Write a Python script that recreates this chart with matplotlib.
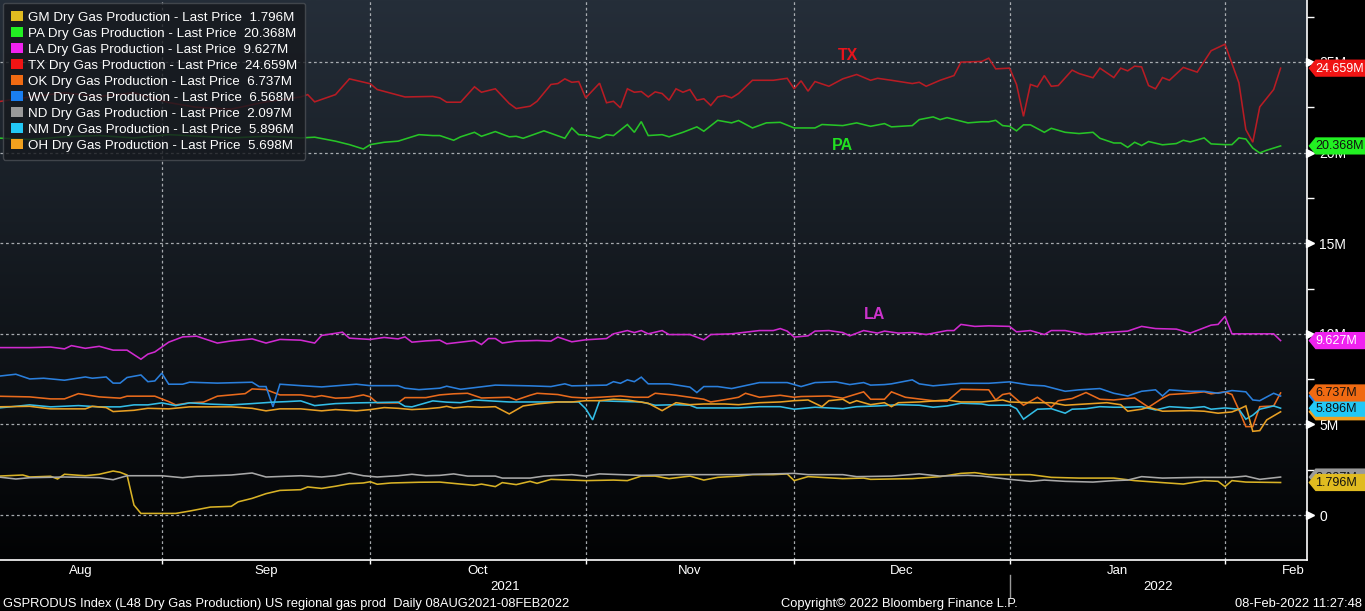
import matplotlib
matplotlib.use("Agg")
import matplotlib.pyplot as plt
import matplotlib.transforms as mtransforms
from matplotlib.patches import Polygon, Patch
from matplotlib.lines import Line2D
import numpy as np
from datetime import date

plt.rcParams['font.family'] = ['Liberation Sans', 'DejaVu Sans']

# ---------------- data (day offset from 08-Aug-2021, values in millions) -------------
START = date(2021, 8, 8)

tx_days = [0, 5, 10, 15, 20, 25, 29, 34, 39, 44, 45, 46, 49, 51, 54, 55, 59, 63, 64, 65, 67, 69, 70, 72, 74, 75, 77, 78,
           80, 81, 82, 83, 84, 85, 87, 88, 89, 90, 91, 92, 93, 94, 95, 96, 97, 98, 99, 100, 101, 102, 103, 104, 105, 106,
           107, 109, 112, 114, 115, 116, 117, 118, 120, 122, 124, 126, 127, 129, 132, 133, 134, 136, 138, 139, 142, 143,
           144, 146, 147, 148, 149, 150, 151, 152, 153, 155, 156, 158, 159, 161, 162, 163, 164, 165, 166, 167, 168, 169,
           171, 173, 175, 177, 179, 180, 181, 182, 184, 185]
tx_vals = [22.78, 23.07, 23.3, 23.1, 23.3, 22.76, 22.5, 22.4, 22.8, 23.07, 23.2, 22.8, 23.2, 24.07, 23.8, 23.48, 23.07,
           23.1, 23.02, 22.78, 22.78, 23.63, 23.33, 23.52, 22.71, 22.43, 22.56, 22.83, 23.76, 23.81, 24.07, 23.88, 23.92,
           23.02, 23.83, 22.75, 22.83, 22.47, 23.52, 23.33, 23.37, 23.07, 23.35, 23.26, 22.89, 23.52, 23.33, 23.48, 22.89,
           22.97, 22.6, 23.07, 23.15, 23.02, 23.26, 23.99, 23.99, 24.1, 23.52, 23.96, 23.39, 23.92, 23.66, 24.07, 24.31,
           23.99, 24.1, 23.99, 23.81, 23.88, 23.66, 23.99, 24.25, 24.99, 25.03, 25.21, 24.62, 24.66, 23.76, 22.0, 23.76,
           23.63, 24.25, 23.66, 23.7, 24.55, 24.36, 24.13, 24.66, 24.14, 24.66, 24.51, 24.77, 24.73, 23.7, 23.52, 24.14,
           23.99, 24.7, 24.44, 25.62, 25.98, 23.85, 21.27, 20.57, 22.52, 23.48, 24.659]

pa_days = [0, 5, 10, 15, 20, 25, 34, 39, 44, 46, 49, 51, 53, 54, 56, 58, 61, 63, 64, 65, 66, 67, 69, 70, 72, 74, 75, 76,
           79, 82, 83, 84, 85, 87, 88, 89, 91, 92, 93, 94, 96, 97, 99, 101, 102, 104, 106, 107, 109, 111, 113, 115, 118,
           119, 122, 124, 126, 128, 129, 132, 133, 135, 136, 137, 140, 142, 143, 144, 145, 146, 147, 148, 149, 151, 152,
           154, 156, 158, 159, 161, 162, 163, 164, 165, 166, 168, 170, 171, 172, 174, 175, 177, 178, 179, 180, 181, 182,
           183, 185]
pa_vals = [20.81, 20.72, 20.87, 20.94, 20.81, 20.99, 20.81, 20.9, 20.81, 20.85, 20.63, 20.44, 20.2, 20.44, 20.57, 20.63,
           20.99, 20.94, 20.94, 20.81, 20.68, 20.87, 21.12, 20.9, 21.16, 20.87, 20.9, 20.79, 21.2, 20.79, 21.36, 20.99,
           20.96, 20.79, 20.99, 20.94, 21.55, 21.12, 21.71, 20.94, 20.99, 20.87, 21.12, 21.42, 21.18, 21.78, 21.64, 21.77,
           21.36, 21.64, 21.67, 21.36, 21.36, 21.55, 21.49, 21.64, 21.45, 21.6, 21.42, 21.49, 21.82, 21.97, 21.82, 21.93,
           21.64, 21.7, 21.7, 21.78, 21.49, 21.45, 21.2, 21.53, 21.53, 21.12, 21.34, 21.12, 21.05, 21.12, 20.79, 20.53,
           20.53, 20.29, 20.57, 20.39, 20.61, 20.43, 20.5, 20.68, 20.59, 20.81, 20.48, 20.44, 20.44, 20.81, 20.75, 20.25,
           19.98, 20.13, 20.368]

la_days = [0, 5, 8, 10, 11, 13, 15, 17, 19, 21, 22, 23, 25, 27, 29, 32, 34, 37, 39, 41, 44, 46, 47, 50, 51, 54, 56, 58,
           59, 60, 62, 64, 65, 69, 70, 71, 72, 73, 75, 78, 80, 81, 83, 85, 88, 89, 91, 92, 93, 94, 96, 97, 100, 102, 103,
           106, 110, 112, 113, 114, 115, 117, 118, 120, 122, 123, 125, 127, 128, 130, 132, 134, 137, 138, 139, 141, 143,
           146, 147, 149, 151, 152, 154, 157, 160, 163, 165, 167, 170, 172, 175, 176, 177, 178, 184, 185]
la_vals = [9.24, 9.24, 9.27, 9.17, 9.35, 9.2, 9.31, 9.1, 9.1, 8.6, 8.88, 9.0, 9.54, 9.83, 9.87, 9.49, 9.61, 9.72, 9.49,
           9.69, 9.65, 9.49, 9.91, 10.09, 9.76, 9.69, 9.8, 9.72, 9.83, 9.54, 9.61, 9.65, 9.45, 9.63, 9.41, 9.74, 9.74,
           9.49, 9.6, 9.63, 9.6, 9.82, 9.56, 9.67, 9.74, 10.0, 10.18, 10.07, 10.18, 10.0, 10.18, 9.96, 9.96, 9.67, 9.96,
           10.0, 10.18, 10.18, 10.29, 10.15, 9.82, 9.89, 10.15, 10.18, 10.07, 9.89, 10.18, 10.04, 10.15, 10.04, 10.07,
           9.96, 10.18, 10.18, 10.52, 10.41, 10.44, 10.41, 10.11, 10.18, 9.96, 10.18, 10.18, 9.96, 10.07, 10.15, 10.41,
           10.29, 10.26, 10.04, 10.48, 10.52, 10.96, 10.0, 10.0, 9.627]

wv_days = [0, 3, 5, 7, 10, 13, 14, 16, 17, 18, 19, 21, 22, 23, 24, 25, 27, 28, 32, 37, 38, 39, 40, 41, 44, 47, 52, 54,
           58, 59, 61, 64, 65, 67, 69, 72, 77, 80, 82, 83, 88, 89, 90, 91, 92, 93, 94, 97, 100, 101, 102, 104, 106, 110,
           114, 116, 118, 121, 123, 125, 126, 128, 129, 132, 133, 135, 139, 143, 146, 149, 151, 154, 156, 159, 161, 163,
           165, 167, 168, 169, 172, 174, 176, 178, 180, 181, 182, 184, 185]
wv_vals = [7.64, 7.77, 7.51, 7.55, 7.44, 7.62, 7.55, 7.62, 7.28, 7.28, 7.59, 7.73, 7.36, 7.4, 7.83, 7.22, 7.22, 7.33,
           7.28, 7.33, 7.09, 7.09, 5.97, 7.22, 7.14, 7.07, 7.22, 7.14, 7.14, 7.0, 6.92, 7.0, 7.11, 6.94, 7.03, 7.17, 7.13,
           7.09, 7.24, 7.13, 7.17, 7.36, 7.27, 7.46, 7.36, 7.61, 7.24, 7.24, 7.06, 6.76, 7.09, 7.09, 6.98, 7.31, 7.31,
           7.09, 7.31, 7.35, 7.2, 7.31, 7.17, 7.2, 7.24, 7.46, 7.24, 7.13, 7.27, 7.27, 7.35, 7.17, 7.13, 6.83, 6.91, 6.98,
           6.72, 6.57, 6.83, 6.91, 6.57, 6.91, 6.83, 6.83, 6.72, 6.87, 6.8, 6.35, 6.31, 6.72, 6.568]

ok_days = [0, 5, 8, 10, 12, 15, 18, 19, 23, 25, 26, 28, 30, 32, 34, 36, 37, 39, 41, 44, 46, 47, 49, 51, 53, 54, 55, 58,
           59, 62, 64, 66, 68, 70, 74, 75, 77, 78, 81, 83, 85, 87, 90, 92, 94, 95, 98, 100, 102, 103, 106, 107, 108, 110,
           113, 115, 116, 120, 122, 125, 126, 128, 129, 131, 135, 137, 139, 143, 144, 145, 146, 148, 150, 152, 153, 155,
           157, 159, 161, 163, 164, 166, 168, 169, 172, 174, 175, 177, 178, 179, 180, 181, 182, 184, 185]
ok_vals = [6.56, 6.52, 6.41, 6.41, 6.7, 6.52, 6.45, 6.56, 6.56, 6.26, 6.08, 6.19, 6.23, 6.56, 6.63, 6.7, 6.96, 6.92,
           6.63, 6.63, 6.52, 6.59, 6.45, 6.48, 6.63, 6.52, 6.19, 6.19, 6.48, 6.48, 6.63, 6.69, 6.72, 6.46, 6.5, 6.35, 6.61,
           6.72, 6.65, 6.5, 6.46, 6.5, 6.57, 6.5, 6.5, 6.72, 6.61, 6.5, 6.39, 6.24, 6.43, 6.5, 6.72, 6.5, 6.61, 6.5, 6.54,
           6.57, 6.45, 6.8, 6.39, 6.39, 6.8, 6.5, 6.31, 6.28, 6.94, 6.91, 6.35, 6.65, 6.72, 6.06, 6.5, 5.95, 6.31, 6.43,
           6.76, 6.39, 6.35, 6.43, 6.46, 5.95, 6.45, 6.65, 6.72, 6.8, 6.69, 6.8, 6.65, 5.8, 4.88, 4.88, 5.98, 6.02, 6.737]

nd_days = [0, 3, 5, 10, 15, 17, 19, 24, 27, 29, 34, 37, 39, 44, 47, 49, 51, 53, 55, 58, 60, 62, 64, 66, 68, 72, 73, 77,
           79, 83, 85, 87, 93, 98, 107, 115, 117, 122, 124, 129, 133, 136, 140, 142, 146, 149, 151, 154, 158, 161, 163,
           165, 168, 173, 178, 180, 182, 185]
nd_vals = [2.12, 1.99, 2.06, 2.1, 2.06, 1.95, 2.17, 2.17, 2.06, 2.14, 2.21, 2.32, 2.1, 2.17, 2.1, 2.17, 2.32, 2.17, 2.1,
           2.17, 2.25, 2.17, 2.19, 2.27, 2.15, 2.15, 2.04, 2.04, 2.15, 2.23, 2.15, 2.27, 2.19, 2.23, 2.23, 2.3, 2.23, 2.23,
           2.12, 2.15, 2.27, 2.15, 2.19, 2.15, 1.97, 1.86, 1.93, 1.86, 1.82, 1.9, 1.93, 2.12, 2.04, 2.08, 2.08, 2.15, 1.97,
           2.097]

nm_days = [0, 3, 5, 8, 12, 15, 18, 20, 22, 24, 26, 28, 31, 34, 37, 40, 42, 44, 46, 49, 52, 58, 59, 60, 63, 65, 67, 69,
           74, 78, 84, 85, 86, 87, 89, 93, 95, 98, 100, 101, 107, 110, 113, 115, 118, 122, 124, 127, 130, 133, 135, 137,
           139, 142, 143, 146, 147, 148, 150, 152, 154, 155, 157, 159, 161, 163, 165, 167, 169, 172, 174, 175, 177, 179,
           180, 181, 182, 184, 185]
nm_vals = [5.89, 6.0, 6.08, 5.97, 6.04, 5.97, 5.97, 6.08, 6.08, 6.19, 6.04, 6.19, 6.12, 6.08, 6.15, 6.23, 6.26, 6.3,
           6.04, 6.15, 6.19, 6.23, 6.0, 5.97, 6.3, 6.23, 6.2, 6.35, 6.24, 6.24, 6.24, 5.87, 5.25, 6.31, 6.28, 6.24, 6.06,
           6.09, 6.06, 5.91, 5.91, 5.98, 5.98, 5.84, 5.95, 5.87, 5.98, 6.02, 6.09, 6.06, 5.95, 6.02, 6.17, 6.13, 6.06,
           6.06, 5.87, 5.29, 5.84, 5.87, 5.62, 5.84, 5.87, 5.98, 5.95, 5.95, 5.98, 5.8, 5.98, 5.91, 5.98, 5.84, 5.91, 5.84,
           5.29, 5.51, 5.84, 6.02, 5.896]

oh_days = [0, 5, 8, 13, 14, 16, 17, 20, 22, 25, 28, 31, 34, 37, 39, 41, 44, 47, 49, 52, 54, 56, 58, 60, 62, 64, 65, 66,
           68, 70, 72, 74, 76, 78, 81, 83, 85, 87, 89, 91, 94, 96, 98, 100, 102, 105, 107, 110, 113, 115, 117, 119, 120,
           122, 123, 124, 126, 128, 129, 130, 133, 137, 139, 142, 145, 146, 149, 152, 154, 157, 160, 162, 163, 165, 166,
           168, 172, 174, 176, 178, 179, 180, 181, 182, 183, 185]
oh_vals = [5.97, 6.0, 5.86, 5.86, 6.0, 5.93, 5.71, 5.78, 5.89, 5.86, 5.97, 5.97, 5.97, 5.89, 5.75, 5.86, 5.86, 5.75,
           5.82, 5.75, 5.82, 5.93, 5.89, 5.82, 5.86, 5.93, 6.0, 5.91, 5.98, 5.95, 5.98, 5.58, 6.02, 6.13, 6.24, 6.24,
           6.31, 6.31, 6.39, 6.35, 6.17, 5.76, 6.2, 6.09, 6.13, 6.13, 6.09, 6.2, 6.24, 6.31, 6.35, 5.98, 6.31, 6.39, 6.17,
           6.31, 6.09, 6.2, 5.98, 6.2, 6.24, 6.35, 6.24, 6.24, 6.35, 6.24, 6.2, 6.2, 6.06, 6.13, 6.2, 6.09, 5.73, 5.84,
           5.95, 5.73, 5.76, 5.73, 5.62, 5.69, 5.84, 6.02, 4.62, 4.66, 5.25, 5.698]

gm_days = [0, 4, 5, 8, 9, 10, 13, 15, 17, 18, 19, 20, 21, 26, 28, 31, 34, 35, 37, 39, 41, 44, 45, 47, 49, 51, 53, 54,
           55, 57, 61, 64, 67, 69, 70, 72, 73, 75, 77, 78, 80, 85, 89, 91, 93, 95, 97, 100, 102, 104, 107, 109, 112, 114,
           115, 117, 122, 125, 126, 132, 136, 139, 141, 143, 149, 152, 156, 161, 164, 168, 171, 174, 176, 177, 178, 180,
           185]
gm_vals = [2.14, 2.21, 2.1, 2.14, 1.99, 2.25, 2.17, 2.25, 2.43, 2.36, 2.21, 0.55, 0.09, 0.09, 0.22, 0.44, 0.48, 0.73,
           0.92, 1.18, 1.36, 1.4, 1.55, 1.47, 1.59, 1.73, 1.77, 1.84, 1.7, 1.77, 1.81, 1.82, 1.71, 1.64, 1.71, 1.57, 1.79,
           1.68, 1.86, 1.75, 1.97, 1.9, 1.93, 1.9, 2.15, 2.15, 2.01, 2.15, 1.93, 2.08, 2.15, 2.23, 2.23, 2.27, 1.9, 2.12,
           2.01, 2.04, 1.97, 2.01, 2.12, 2.3, 2.34, 2.23, 2.23, 2.08, 2.04, 2.04, 1.9, 1.79, 1.71, 1.9, 1.86, 1.57, 1.9,
           1.82, 1.796]

legend_codes = ['GM', 'PA', 'LA', 'TX', 'OK', 'WV', 'ND', 'NM', 'OH']
last_prices = ['1.796M', '20.368M', '9.627M', '24.659M', '6.737M', '6.568M', '2.097M', '5.896M', '5.698M']
last_values = [1.796, 20.368, 9.627, 24.659, 6.737, 6.568, 2.097, 5.896, 5.698]

y_ticks = [0, 5, 10, 15, 20, 25]
y_tick_labels = ['0', '5M', '10M', '15M', '20M', '25M']
month_names = ['Aug', 'Sep', 'Oct', 'Nov', 'Dec', 'Jan', 'Feb']
month_starts = [date(2021, 9, 1), date(2021, 10, 1), date(2021, 11, 1), date(2021, 12, 1),
                date(2022, 1, 1), date(2022, 2, 1)]

# ---------------- styling ----------------
series_days = [gm_days, pa_days, la_days, tx_days, ok_days, wv_days, nd_days, nm_days, oh_days]
series_vals = [gm_vals, pa_vals, la_vals, tx_vals, ok_vals, wv_vals, nd_vals, nm_vals, oh_vals]
line_colors = ['#d8b226', '#27c427', '#d02ad0', '#b81c24', '#e86a1c', '#2a7fdc', '#a8a8a8', '#33bde6', '#e8a024']
swatch_colors = ['#e0bb20', '#22f022', '#f022f0', '#f01414', '#f06a12', '#1a7ef0', '#9a9a9a', '#22c8f6', '#f2a01e']
tag_text_colors = ['#111111', '#111111', 'white', 'white', '#111111', 'white', '#111111', '#111111', '#111111']
# stacking of the value tags (higher = on top)
tag_order = [9, 8, 7, 6, 5, 1, 3, 4, 2]

W, H = 1365, 611
fig = plt.figure(figsize=(W / 100, H / 100), dpi=100, facecolor='black')

ax_left_px, ax_right_px, ax_bottom_px = 0, 1307, 560
ax = fig.add_axes([ax_left_px / W, (H - ax_bottom_px) / H, (ax_right_px - ax_left_px) / W, ax_bottom_px / H])
ax.set_facecolor('black')

xmin, xmax = 0.72, 188.8
ymin, ymax = -2.48, 28.42
ax.set_xlim(xmin, xmax)
ax.set_ylim(ymin, ymax)

# gradient background
grad = np.linspace(0, 1, 256).reshape(-1, 1)
top = np.array([0x25, 0x2e, 0x39]) / 255.0
bot = np.array([0x02, 0x03, 0x04]) / 255.0
img = top[None, None, :] * (1 - grad[:, :, None]) + bot[None, None, :] * grad[:, :, None]
ax.imshow(img, extent=[0, 1, 0, 1], transform=ax.transAxes, aspect='auto', zorder=-10, interpolation='bilinear')

# grid
ms_days = [(m - START).days for m in month_starts]
for yv in y_ticks:
    ax.axhline(yv, color='#b8bcc0', lw=0.9, ls=(0, (2.2, 2.2)), zorder=1, alpha=0.9)
for xv in ms_days:
    ax.axvline(xv, color='#b8bcc0', lw=0.9, ls=(0, (2.2, 2.2)), zorder=1, alpha=0.9)

# lines
for dd, vv, c in zip(series_days, series_vals, line_colors):
    ax.plot(dd, vv, color=c, lw=1.15, zorder=3, solid_joinstyle='miter')

# annotations
ax.text(122.7, 25.35, 'TX', color='#e8141c', fontsize=11.5, fontweight='bold', ha='center', va='center', zorder=4)
ax.text(121.9, 20.4, 'PA', color='#22e022', fontsize=11.5, fontweight='bold', ha='center', va='center', zorder=4)
ax.text(126.6, 11.05, 'LA', color='#cc33cc', fontsize=11.5, fontweight='bold', ha='center', va='center', zorder=4)

# spines / ticks
for s in ['top', 'left']:
    ax.spines[s].set_visible(False)
ax.spines['right'].set_color('white')
ax.spines['bottom'].set_color('white')
ax.spines['right'].set_linewidth(1.2)
ax.spines['bottom'].set_linewidth(1.2)
ax.yaxis.tick_right()
ax.set_yticks(y_ticks)
ax.set_yticklabels(y_tick_labels)
ax.set_yticks([2.5, 7.5, 12.5, 17.5, 22.5, 27.5], minor=True)
ax.tick_params(axis='y', which='major', length=0, pad=9, labelsize=10, labelcolor='white')
ax.tick_params(axis='y', which='minor', length=5, width=1, color='white', direction='out')
ax.set_xticks(ms_days)
ax.set_xticklabels([])
ax.tick_params(axis='x', which='major', length=3, width=1, color='white', direction='out')

# triangular major tick markers on the right spine
bt = mtransforms.blended_transform_factory(ax.transAxes, ax.transData)
ax.plot([1.0024] * len(y_ticks), y_ticks, ls='none', marker='>', markersize=5.5, color='white',
        transform=bt, clip_on=False, zorder=6)

# month labels
bx = mtransforms.blended_transform_factory(ax.transData, fig.transFigure)
month_label_y = (H - 571) / H
centers = [(xmin + ms_days[0]) / 2.0]
for i in range(len(ms_days) - 1):
    centers.append((ms_days[i] + ms_days[i + 1]) / 2.0)
for name, cx in zip(month_names[:-1], centers):
    fig.text(cx, month_label_y, name, transform=bx, color='white', fontsize=9.5, ha='center', va='center')
fig.text(xmax - 0.3, month_label_y, month_names[-1], transform=bx, color='white', fontsize=9.5, ha='right', va='center')

year_y = (H - 587) / H
jan1 = (date(2022, 1, 1) - START).days
fig.text((xmin + jan1) / 2.0, year_y, '2021', transform=bx, color='white', fontsize=9.5, ha='center', va='center')
fig.text((jan1 + xmax) / 2.0, year_y, '2022', transform=bx, color='white', fontsize=9.5, ha='center', va='center')
fig.add_artist(Line2D([jan1, jan1], [(H - 575) / H, (H - 597) / H], transform=bx, color='#9a9a9a', lw=1))

# footer
foot_y = (H - 604) / H
fig.text(3 / W, foot_y, 'GSPRODUS Index (L48 Dry Gas Production) US regional gas prod  Daily 08AUG2021-08FEB2022',
         color='white', fontsize=9.3, ha='left', va='center')
fig.text(899 / W, foot_y, 'Copyright\u00a9 2022 Bloomberg Finance L.P.', color='white', fontsize=9.3,
         ha='center', va='center')
fig.text(1362 / W, foot_y, '08-Feb-2022 11:27:48', color='white', fontsize=9.3, ha='right', va='center')

# legend
handles = [Patch(facecolor=c, edgecolor='none') for c in swatch_colors]
labels = [f'{c} Dry Gas Production - Last Price  {p}' for c, p in zip(legend_codes, last_prices)]
leg = ax.legend(handles, labels, loc='upper left', bbox_to_anchor=(0.002, 0.995), fontsize=9.6,
                handlelength=0.9, handleheight=0.85, handletextpad=0.4, labelspacing=0.23,
                borderpad=0.6, borderaxespad=0.0, frameon=True, fancybox=True, framealpha=0.82)
leg.get_frame().set_facecolor('#16191e')
leg.get_frame().set_edgecolor('#4a4e54')
leg.get_frame().set_linewidth(1.0)
for t in leg.get_texts():
    t.set_color('white')
leg.set_zorder(10)

# value tags on the right
ident = mtransforms.IdentityTransform()
x0 = ax.transAxes.transform((1, 0))[0] + 1.5
for i in range(len(legend_codes)):
    yv = ax.transData.transform((0, last_values[i]))[1]
    z = 20 + 2 * tag_order[i]
    poly = Polygon([(x0, yv), (x0 + 7.0, yv + 8.6), (W + 5, yv + 8.6), (W + 5, yv - 8.6), (x0 + 7.0, yv - 8.6)],
                   closed=True, facecolor=swatch_colors[i], edgecolor='none', transform=ident, zorder=z)
    fig.add_artist(poly)
    fig.text(x0 + 7.0, yv - 0.5, last_prices[i], transform=ident, color=tag_text_colors[i], fontsize=9,
             ha='left', va='center', zorder=z + 1)

fig.savefig('out.png', dpi=100, facecolor='black')
